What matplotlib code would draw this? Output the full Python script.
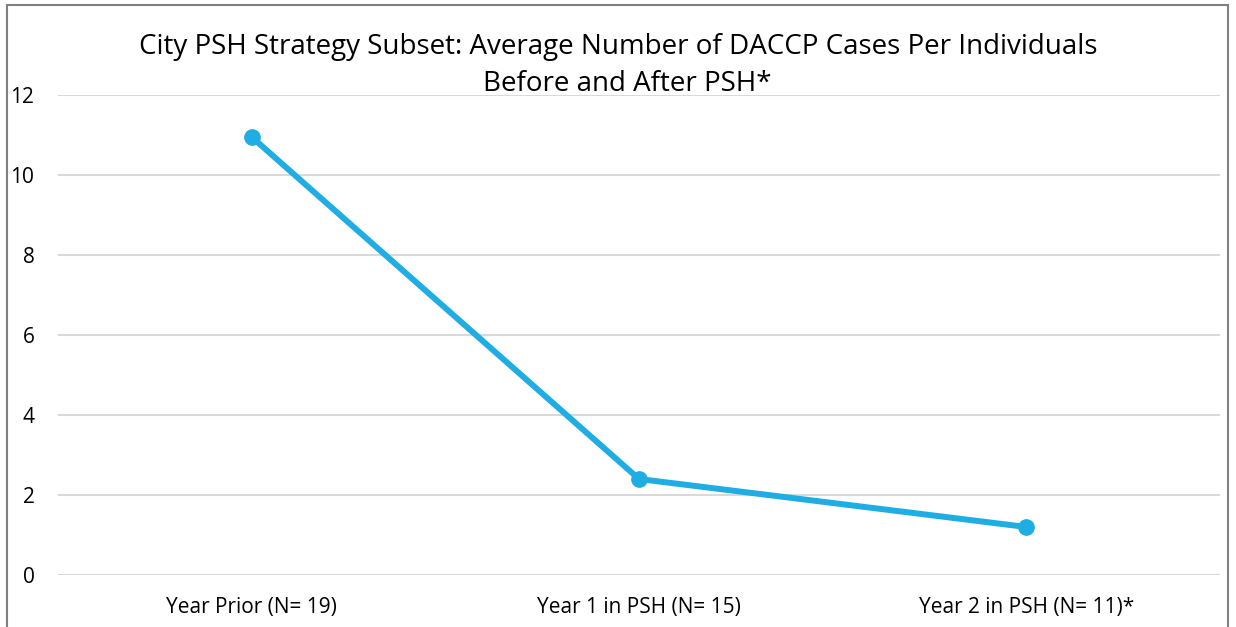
import matplotlib.pyplot as plt
from matplotlib.patches import Rectangle

# Data
categories = ["Year Prior (N= 19)", "Year 1 in PSH (N= 15)", "Year 2 in PSH (N= 11)*"]
avg_cases = [10.95, 2.4, 1.2]
y_ticks = [0, 2, 4, 6, 8, 10, 12]

plt.rcParams['font.family'] = ['Open Sans', 'DejaVu Sans']

fig = plt.figure(figsize=(12.36, 6.27), dpi=100)
ax = fig.add_axes([58 / 1236, 52 / 627, 1162 / 1236, 480 / 627])

x = list(range(len(categories)))
ax.plot(x, avg_cases, color='#1FADE4', linewidth=4.3, marker='o',
        markersize=11, solid_capstyle='round', zorder=3)

ax.set_xlim(-0.5, len(categories) - 0.5)
ax.set_ylim(0, 12)
ax.set_yticks(y_ticks)
ax.set_xticks(x)
ax.set_xticklabels(categories, fontsize=15)
ax.tick_params(axis='y', length=0, pad=17, labelsize=15)
ax.tick_params(axis='x', length=0, pad=16)
ax.grid(axis='y', color='#D9D9D9', linewidth=1.5)
ax.set_axisbelow(True)
for s in ax.spines.values():
    s.set_visible(False)

# Title
fig.text(0.5, 1 - 47 / 627, "City PSH Strategy Subset: Average Number of DACCP Cases Per Individuals",
         ha='center', va='center', fontsize=20)
fig.text(627 / 1236, 1 - 84 / 627, "Before and After PSH*",
         ha='center', va='center', fontsize=20)

# Outer border
fig.patches.append(Rectangle((7 / 1236, -0.05), (1228 - 7) / 1236, 1.05 - 5 / 627,
                             transform=fig.transFigure, fill=False,
                             edgecolor='#808080', linewidth=1.5))

fig.savefig("out.png", dpi=100)
